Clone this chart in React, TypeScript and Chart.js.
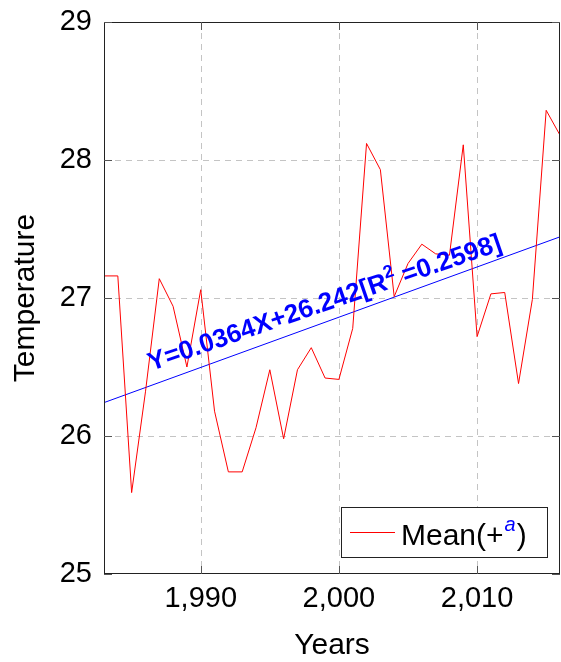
import React, { useEffect, useRef } from "react";
import { Chart, registerables } from "chart.js";

Chart.register(...registerables);

const years: number[] = [
  1983, 1984, 1985, 1986, 1987, 1988, 1989, 1990, 1991, 1992, 1993, 1994,
  1995, 1996, 1997, 1998, 1999, 2000, 2001, 2002, 2003, 2004, 2005, 2006,
  2007, 2008, 2009, 2010, 2011, 2012, 2013, 2014, 2015, 2016,
];
const meanTemp: number[] = [
  27.16, 27.16, 25.59, 26.32, 27.14, 26.94, 26.5, 27.06, 26.18, 25.74, 25.74,
  26.06, 26.48, 25.98, 26.48, 26.64, 26.42, 26.41, 26.78, 28.12, 27.93, 27.01,
  27.25, 27.39, 27.32, 27.31, 28.11, 26.72, 27.03, 27.04, 26.38, 26.99, 28.36,
  28.18,
];
const xTicks: number[] = [1990, 2000, 2010];
const yTicks: number[] = [25, 26, 27, 28, 29];
const trendSlope = 0.0364;
const trendIntercept = 26.242;
const trendYears: number[] = [1983, 2016];
const trendValues: number[] = trendYears.map(
  (y) => trendIntercept + trendSlope * (y - trendYears[0])
);
const trendLabelMain = "Y=0.0364X+26.242[R";
const trendLabelSup = "2";
const trendLabelEnd = " =0.2598]";
const legendLabel = "Mean(+";
const legendSup = "a";
const legendEnd = ")";
const xTitle = "Years";
const yTitle = "Temperature";

const FONT = "'Liberation Sans', Arial, Helvetica, sans-serif";

const decorPlugin = {
  id: "decor",
  beforeDatasetsDraw(chart: any) {
    const { ctx, chartArea: a, scales } = chart;
    ctx.save();
    ctx.strokeStyle = "#c4c4c4";
    ctx.lineWidth = 1;
    ctx.setLineDash([6, 5]);
    for (const v of xTicks) {
      const x = Math.round(scales.x.getPixelForValue(v)) + 0.5;
      ctx.beginPath();
      ctx.moveTo(x, a.top);
      ctx.lineTo(x, a.bottom);
      ctx.stroke();
    }
    for (const v of yTicks) {
      if (v === yTicks[0] || v === yTicks[yTicks.length - 1]) continue;
      const y = Math.round(scales.y.getPixelForValue(v)) + 0.5;
      ctx.beginPath();
      ctx.moveTo(a.left, y);
      ctx.lineTo(a.right, y);
      ctx.stroke();
    }
    ctx.restore();
  },
  afterDatasetsDraw(chart: any) {
    const { ctx, chartArea: a, scales } = chart;
    ctx.save();
    // trend annotation
    const ax = scales.x.getPixelForValue(1999.15);
    const ay = scales.y.getPixelForValue(26.91);
    ctx.translate(ax, ay);
    ctx.rotate((-19 * Math.PI) / 180);
    ctx.fillStyle = "#0000ff";
    const mainFont = `bold 26px ${FONT}`;
    const supFont = `bold 18px ${FONT}`;
    ctx.font = mainFont;
    const w1 = ctx.measureText(trendLabelMain).width;
    const w3 = ctx.measureText(trendLabelEnd).width;
    ctx.font = supFont;
    const w2 = ctx.measureText(trendLabelSup).width;
    const total = w1 + w2 + w3;
    let cx = -total / 2;
    ctx.textBaseline = "alphabetic";
    ctx.textAlign = "left";
    ctx.font = mainFont;
    ctx.fillText(trendLabelMain, cx, 0);
    cx += w1;
    ctx.font = supFont;
    ctx.fillText(trendLabelSup, cx, -11);
    cx += w2;
    ctx.font = mainFont;
    ctx.fillText(trendLabelEnd, cx, 0);
    ctx.restore();

    ctx.save();
    // box
    ctx.strokeStyle = "#222";
    ctx.lineWidth = 1;
    ctx.strokeRect(
      Math.round(a.left) + 0.5,
      Math.round(a.top) + 0.5,
      Math.round(a.right - a.left) - 1,
      Math.round(a.bottom - a.top) - 1
    );
    // inside tick marks
    ctx.strokeStyle = "#555";
    const tl = 8;
    for (const v of xTicks) {
      const x = Math.round(scales.x.getPixelForValue(v)) + 0.5;
      ctx.beginPath();
      ctx.moveTo(x, a.bottom);
      ctx.lineTo(x, a.bottom - tl);
      ctx.moveTo(x, a.top);
      ctx.lineTo(x, a.top + tl);
      ctx.stroke();
    }
    for (const v of yTicks) {
      const y = Math.round(scales.y.getPixelForValue(v)) + 0.5;
      ctx.beginPath();
      ctx.moveTo(a.left, y);
      ctx.lineTo(a.left + tl, y);
      ctx.moveTo(a.right, y);
      ctx.lineTo(a.right - tl, y);
      ctx.stroke();
    }

    // legend
    const lx = a.right - 219;
    const ly = a.bottom - 67;
    const lw = 206;
    const lh = 50;
    ctx.fillStyle = "#fff";
    ctx.fillRect(lx, ly, lw, lh);
    ctx.strokeStyle = "#222";
    ctx.strokeRect(lx + 0.5, ly + 0.5, lw, lh);
    ctx.strokeStyle = "#ff0000";
    ctx.beginPath();
    ctx.moveTo(lx + 9, ly + 25.5);
    ctx.lineTo(lx + 54, ly + 25.5);
    ctx.stroke();
    ctx.textAlign = "left";
    ctx.textBaseline = "alphabetic";
    ctx.fillStyle = "#000";
    ctx.font = `30px ${FONT}`;
    let tx = lx + 60;
    const tb = ly + 38;
    ctx.fillText(legendLabel, tx, tb);
    tx += ctx.measureText(legendLabel).width + 1;
    ctx.font = `italic 20px ${FONT}`;
    ctx.fillStyle = "#0000ff";
    ctx.fillText(legendSup, tx, tb - 14);
    tx += ctx.measureText(legendSup).width + 1;
    ctx.font = `30px ${FONT}`;
    ctx.fillStyle = "#000";
    ctx.fillText(legendEnd, tx, tb);

    // axis titles
    ctx.font = `30px ${FONT}`;
    ctx.textAlign = "center";
    ctx.textBaseline = "alphabetic";
    ctx.fillText(xTitle, (a.left + a.right) / 2, 654);
    ctx.translate(34, (a.top + a.bottom) / 2);
    ctx.rotate(-Math.PI / 2);
    ctx.fillText(yTitle, 0, 0);
    ctx.restore();
  },
};

export default function App() {
  const ref = useRef<HTMLCanvasElement | null>(null);
  useEffect(() => {
    document.body.style.margin = "0";
    const canvas = ref.current!;
    const chart = new Chart(canvas, {
      type: "line",
      data: {
        datasets: [
          {
            label: "Mean",
            data: years.map((y, i) => ({ x: y, y: meanTemp[i] })),
            borderColor: "#ff0000",
            borderWidth: 1,
            pointRadius: 0,
            tension: 0,
            fill: false,
          },
          {
            label: "Trend",
            data: trendYears.map((y, i) => ({ x: y, y: trendValues[i] })),
            borderColor: "#0000ff",
            borderWidth: 1,
            pointRadius: 0,
            tension: 0,
            fill: false,
          },
        ],
      },
      options: {
        animation: false,
        responsive: false,
        devicePixelRatio: 1,
        layout: { padding: { top: 22, right: 1, left: 0, bottom: 0 } },
        plugins: {
          legend: { display: false },
          tooltip: { enabled: false },
        },
        scales: {
          x: {
            type: "linear",
            min: years[0],
            max: years[years.length - 1],
            grid: { display: false, drawTicks: false },
            border: { display: false },
            afterBuildTicks: (scale: any) => {
              scale.ticks = xTicks.map((v) => ({ value: v }));
            },
            afterFit: (scale: any) => {
              scale.height = 88;
              scale.paddingLeft = 0;
              scale.paddingRight = 0;
            },
            ticks: {
              padding: 8,
              color: "#000",
              font: { family: FONT, size: 29 },
              maxRotation: 0,
              callback: (v: any) => Number(v).toLocaleString("en-US"),
            },
          },
          y: {
            type: "linear",
            min: yTicks[0],
            max: yTicks[yTicks.length - 1],
            grid: { display: false, drawTicks: false },
            border: { display: false },
            afterBuildTicks: (scale: any) => {
              scale.ticks = yTicks.map((v) => ({ value: v }));
            },
            afterFit: (scale: any) => {
              scale.width = 104;
              scale.paddingTop = 0;
              scale.paddingBottom = 0;
            },
            ticks: {
              padding: 12,
              color: "#000",
              font: { family: FONT, size: 29 },
              callback: (v: any) => String(v),
            },
          },
        },
      },
      plugins: [decorPlugin],
    } as any);
    return () => chart.destroy();
  }, []);
  return (
    <div style={{ width: 561, height: 662 }}>
      <canvas ref={ref} width={561} height={662} style={{ display: "block" }} />
    </div>
  );
}
